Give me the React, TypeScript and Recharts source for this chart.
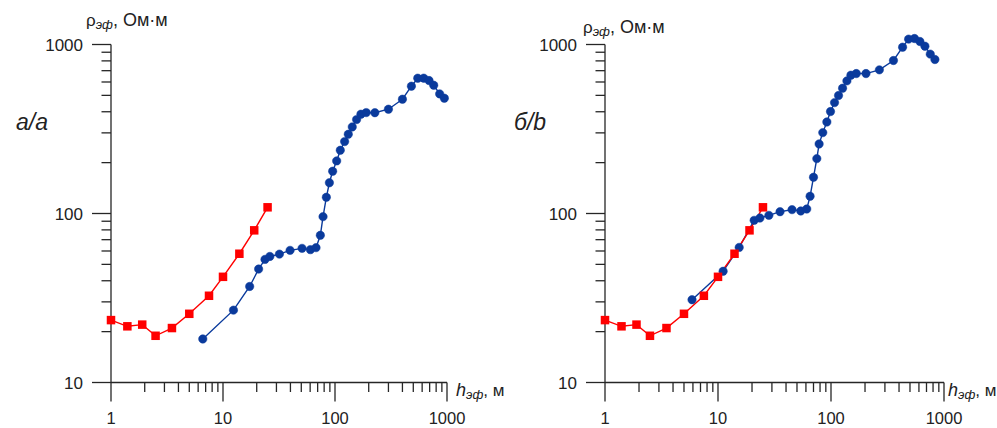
import React from 'react';
import { LineChart, Line, XAxis, YAxis, ReferenceLine } from 'recharts';

// Red series (both panels) – h (m) and rho (Ohm·m)
const redX = [1, 1.4, 1.9, 2.5, 3.5, 5, 7.5, 10, 14, 19, 25];
const redY = [23.4, 21.5, 22.0, 18.9, 21.0, 25.5, 32.6, 42.2, 57.8, 79.5, 108.8];

// Blue series, panel a/a
const blueAX = [6.6, 12.4, 17.3, 20.8, 23.7, 26.2, 31.9, 39.7, 50.8, 60.3, 67.7, 74.0, 78.2, 83.7, 89.1, 95.3, 103.5, 111.5, 121.9, 131.4, 142.6, 155.9, 170.4, 190, 227, 300, 400, 481, 548, 620, 691, 761, 860, 947];
const blueAY = [18.1, 26.8, 37.0, 46.9, 53.5, 55.7, 57.5, 60.5, 62.2, 61.1, 62.8, 74.3, 95.8, 124.7, 152, 177.8, 204.7, 236.7, 266.4, 294.3, 325.3, 359.5, 386.7, 395.5, 395, 414, 474.5, 566.6, 631.8, 632, 612, 574, 510, 481];

// Blue series, panel б/b
const blueBX = [5.89, 11.1, 15.4, 20.9, 23.5, 28.2, 35.4, 45.2, 54.0, 61.0, 65.3, 70.0, 74.9, 78.5, 84.6, 91.9, 99.0, 107.5, 116.6, 126.6, 138.3, 150.0, 167.4, 204, 268, 357, 430, 486, 548, 612, 678, 756, 831];
const blueBY = [30.9, 45.5, 63.0, 91.1, 94.0, 97.5, 102.5, 105.4, 103.5, 106.3, 126.4, 163.8, 211.2, 258, 301, 348, 401, 453, 499, 551, 609, 658, 673, 673, 708, 804, 964, 1076, 1085, 1042, 977, 877, 815];

const xTicks = [1, 2, 3, 4, 5, 6, 7, 8, 9, 10, 20, 30, 40, 50, 60, 70, 80, 90, 100, 200, 300, 400, 500, 600, 700, 800, 900, 1000];
const yTicks = [10, 20, 30, 40, 50, 60, 70, 80, 90, 100, 200, 300, 400, 500, 600, 700, 800, 900, 1000];
const majorX = [1, 10, 100, 1000];
const majorY = [10, 100, 1000];

const FONT = '"Liberation Sans", Arial, sans-serif';
const AXIS = '#262626';
const RED = '#ff0000';
const BLUE = '#0a3a9c';

const toPts = (xs: number[], ys: number[]) => xs.map((x, i) => ({ x, y: ys[i] }));

function XTick(props: any) {
  const { x, y, payload } = props;
  const v = payload.value;
  const major = majorX.includes(v);
  return (
    <g>
      <line x1={x} x2={x} y1={y} y2={y + (major ? 19 : 9.5)} stroke={AXIS} strokeWidth={1.3} />
      {major && (
        <text x={x} y={y + 41.5} textAnchor="middle" fontSize={16.5} fontFamily={FONT} fill="#222">
          {v}
        </text>
      )}
    </g>
  );
}

function YTick(props: any) {
  const { x, y, payload } = props;
  const v = payload.value;
  const major = majorY.includes(v);
  return (
    <g>
      <line x1={x - (major ? 19 : 9.5)} x2={x} y1={y} y2={y} stroke={AXIS} strokeWidth={1.3} />
      {major && (
        <text x={x - 28} y={y + 6} textAnchor="end" fontSize={17} fontFamily={FONT} fill="#222">
          {v}
        </text>
      )}
    </g>
  );
}

function SquareDot(props: any) {
  const { cx, cy, index } = props;
  const s = 8.5;
  return <rect key={`sq-${index}`} x={cx - s / 2} y={cy - s / 2} width={s} height={s} fill={RED} />;
}

function Panel({ blueX, blueY, marginLeft }: { blueX: number[]; blueY: number[]; marginLeft: number }) {
  const red = toPts(redX, redY);
  const blue = toPts(blueX, blueY);
  return (
    <LineChart
      width={500}
      height={428}
      margin={{ top: 31.12, right: 53, bottom: 5.5, left: marginLeft }}
    >
      <XAxis
        type="number"
        dataKey="x"
        scale="log"
        domain={[1, 1000]}
        ticks={xTicks}
        interval={0}
        tick={<XTick />}
        tickLine={false}
        tickSize={0}
        tickMargin={0}
        axisLine={{ stroke: AXIS, strokeWidth: 1.3 }}
        height={40}
      />
      <YAxis
        type="number"
        dataKey="y"
        scale="log"
        domain={[10, 1200]}
        ticks={yTicks}
        interval={0}
        tick={<YTick />}
        tickLine={false}
        tickSize={0}
        tickMargin={0}
        axisLine={false}
        width={60}
      />
      <ReferenceLine
        segment={[{ x: 1, y: 10 }, { x: 1, y: 1000 }]}
        stroke={AXIS}
        strokeWidth={1.3}
      />
      <Line
        data={blue}
        dataKey="y"
        type="linear"
        stroke={BLUE}
        strokeWidth={1.4}
        dot={{ r: 4.2, fill: BLUE, stroke: BLUE, strokeWidth: 0.5 }}
        isAnimationActive={false}
      />
      <Line
        data={red}
        dataKey="y"
        type="linear"
        stroke={RED}
        strokeWidth={1.4}
        dot={<SquareDot />}
        isAnimationActive={false}
      />
    </LineChart>
  );
}

export default function App() {
  return (
    <div style={{ position: 'absolute', left: 0, top: 0, width: 997, height: 428, background: '#fff', overflow: 'hidden' }}>
      <div style={{ position: 'absolute', left: 0, top: 0 }}>
        <Panel blueX={blueAX} blueY={blueAY} marginLeft={51} />
      </div>
      <div style={{ position: 'absolute', left: 497, top: 0 }}>
        <Panel blueX={blueBX} blueY={blueBY} marginLeft={48} />
      </div>
      <svg width={997} height={428} style={{ position: 'absolute', left: 0, top: 0, pointerEvents: 'none' }}>
        <g fontFamily={FONT} fill="#222">
          <text x={86} y={26} fontSize={17}>
            ρ<tspan fontSize={13} fontStyle="italic" dy={3}>эф</tspan>
            <tspan dy={-3} fontSize={18}>, Ом·м</tspan>
          </text>
          <text x={583} y={33} fontSize={17}>
            ρ<tspan fontSize={13} fontStyle="italic" dy={3}>эф</tspan>
            <tspan dy={-3} fontSize={18}>, Ом·м</tspan>
          </text>
          <text x={456} y={396} fontSize={18} fontStyle="italic">
            h<tspan fontSize={13} dy={3}>эф</tspan>
            <tspan dy={-3} fontStyle="normal" fontSize={17}>, м</tspan>
          </text>
          <text x={948} y={396} fontSize={18} fontStyle="italic">
            h<tspan fontSize={13} dy={3}>эф</tspan>
            <tspan dy={-3} fontStyle="normal" fontSize={17}>, м</tspan>
          </text>
          <text x={16} y={130} fontSize={23} fontStyle="italic">a/a</text>
          <text x={514} y={130} fontSize={23} fontStyle="italic">б/b</text>
        </g>
      </svg>
    </div>
  );
}
